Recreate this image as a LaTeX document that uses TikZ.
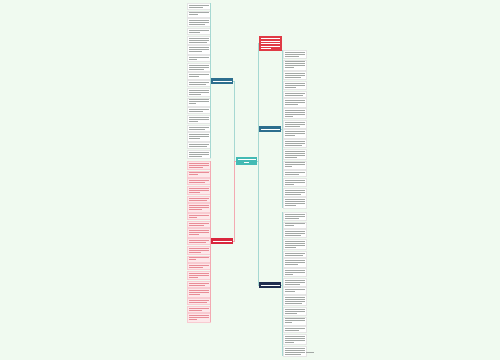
\documentclass[tikz,border=0pt]{standalone}
\usetikzlibrary{calc}
\definecolor{bgc}{HTML}{F0FAF0}
\definecolor{tealc}{HTML}{43BAB4}
\definecolor{bluec}{HTML}{2D6E8E}
\definecolor{navyc}{HTML}{1F2D4F}
\definecolor{redc}{HTML}{D9263D}
\definecolor{redbox}{HTML}{E03A45}
\definecolor{pinkfill}{HTML}{FDE8EA}
\definecolor{pinkline}{HTML}{F3A9B2}
\definecolor{tealline}{HTML}{A6D8D2}
\definecolor{textgray}{HTML}{A3A8A5}
\definecolor{textred}{HTML}{E88C96}
\tikzset{
  leafw/.style={draw=black!10, fill=white, line width=0.3pt, anchor=north west,
    minimum width=23pt, inner sep=0pt, outer sep=0pt},
  leafp/.style={draw=pinkline!60, fill=pinkfill, line width=0.3pt, anchor=north west,
    minimum width=23pt, inner sep=0pt, outer sep=0pt},
  txtw/.style={draw=textgray, line width=0.75pt},
  txtp/.style={draw=textred, line width=0.75pt},
  txtb/.style={draw=white, line width=0.8pt},
  branch/.style={rectangle, inner sep=0pt, outer sep=0pt, anchor=north west,
    minimum width=22pt, minimum height=6pt},
  connt/.style={draw=tealline, line width=0.7pt},
  connp/.style={draw=pinkline, line width=0.7pt},
}
% column of leaf boxes: prefix, x, y start, box style, text style, list of line counts
\newcommand\leafcol[6]{%
  \xdef\colY{#3}%
  \xdef\colI{0}%
  \foreach \nl in {#6}{%
    \pgfmathtruncatemacro\nidx{\colI+1}\xdef\colI{\nidx}%
    \pgfmathsetmacro\bh{2*\nl+2.2}%
    \node[#4, minimum height=\bh pt] (#1\nidx) at (#2,\colY) {};
    \foreach \kk in {1,...,\nl}{%
      \pgfmathsetmacro\bly{\colY+0.1+2*\kk}%
      \pgfmathsetmacro\blen{ifthenelse(\kk==\nl,7+mod(\nidx*7,12),20)}%
      \draw[#5] (#2+1.5,\bly) -- ++(\blen,0);
    }%
    \pgfmathsetmacro\bny{\colY+\bh+1.5}\xdef\colY{\bny}%
  }%
}
\begin{document}
\begin{tikzpicture}[x=1pt,y=-1pt]
\fill[bgc] (0,0) rectangle (500,360);
\useasboundingbox (0,0) rectangle (500,360);

% leaf columns
\leafcol{lw}{187}{3}{leafw}{txtw}{2,2,3,2,3,3,2,3,2,2,3,3,2,3,2,3,2,3}
\draw[connt] ([xshift=0.6pt]lw1.north east) -- ([xshift=0.6pt]lw18.south east);
\leafcol{lp}{187}{161}{leafp}{txtp}{3,2,2,3,2,3,2,2,3,2,3,2,2,3,2,3,2,2,3}
\draw[connp] ([xshift=0.6pt]lp1.north east) -- ([xshift=0.6pt]lp19.south east);
\leafcol{ra}{283}{50}{leafw}{txtw}{3,4,3,3,2,3,4,3,3,3,4,3,2,3,3,4}
\draw[connt] ([xshift=-0.6pt]ra1.north west) -- ([xshift=-0.6pt]ra16.south west);
\leafcol{rb}{283}{212}{leafw}{txtw}{3,2,3,4,2,3,3,3,2,4,3,3,2,4,4}
\draw[connt] ([xshift=-0.6pt]rb1.north west) -- ([xshift=-0.6pt]rb15.south west);

% central and branch nodes
\node[branch, fill=tealc, minimum width=21pt, minimum height=8pt] (C) at (236,157) {};
\draw[txtb] (237.5,159.6) -- ++(18,0);
\draw[txtb] (244,162.4) -- ++(5,0);

\node[branch, fill=bluec] (L1) at (211,78) {};
\draw[txtb] (212.5,81) -- ++(19,0);
\node[branch, fill=redc] (L2) at (211,238) {};
\draw[txtb] (212.5,241) -- ++(19,0);
\node[branch, fill=bluec] (R1) at (259,126) {};
\draw[txtb] (260.5,129) -- ++(19,0);
\node[branch, fill=navyc] (R2) at (259,282) {};
\draw[txtb] (260.5,285) -- ++(19,0);

\node[branch, fill=redbox, minimum width=22.5pt, minimum height=15pt] (R0) at (259,36) {};
\foreach \yy/\ll in {38.6/19.5,41.1/19.5,43.6/19.5,46.1/19.5,48.6/10}
  \draw[txtb, line width=0.75pt] (260.5,\yy) -- ++(\ll,0);

% trunk connectors
\draw[connt] (C.west) -- ++(-1.8,0) |- (L1.west -| L1.east);
\draw[connp] (C.west) -- ++(-1.8,0) |- (L2.west -| L2.east);
\draw[connt] (C.east) -- ++(1.4,0) |- (R0.west);
\draw[connt] (C.east) -- ++(1.4,0) |- (R1.west);
\draw[connt] (C.east) -- ++(1.4,0) |- (R2.west);

% branch to leaf spines
\draw[connt] (L1.west) -- ++(-0.6,0);
\draw[connp] (L2.west) -- ++(-0.6,0);
\draw[connt] (R1.east) -- ++(1.4,0);
\draw[connt] (R2.east) -- ++(1.4,0);

% small footer text
\draw[draw=textgray, line width=0.7pt] (306,352.5) -- ++(8,0);
\end{tikzpicture}
\end{document}
